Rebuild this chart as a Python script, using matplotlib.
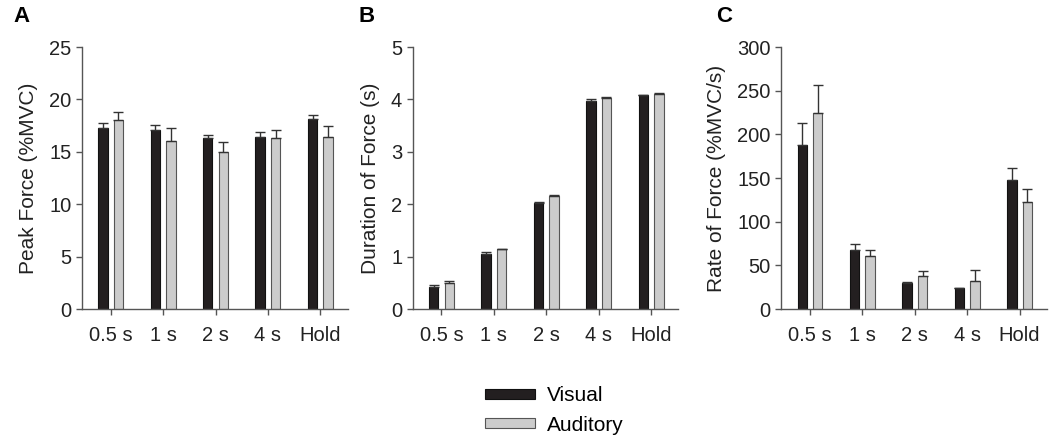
import numpy as np
import matplotlib.pyplot as plt

plt.rcParams['font.family'] = ['Liberation Sans', 'DejaVu Sans']

conditions = ['0.5 s', '1 s', '2 s', '4 s', 'Hold']

# Peak force (%MVC)
peak_visual = [17.3, 17.1, 16.3, 16.4, 18.1]
peak_visual_err = [0.5, 0.5, 0.3, 0.5, 0.45]
peak_auditory = [18.0, 16.0, 15.0, 16.3, 16.4]
peak_auditory_err = [0.85, 1.3, 0.95, 0.8, 1.05]

# Duration of force (s)
dur_visual = [0.42, 1.05, 2.03, 3.97, 4.08]
dur_visual_err = [0.03, 0.03, 0.01, 0.03, 0.01]
dur_auditory = [0.49, 1.14, 2.16, 4.02, 4.11]
dur_auditory_err = [0.05, 0.01, 0.01, 0.03, 0.01]

# Rate of force (%MVC/s)
rate_visual = [188, 68, 30, 24, 148]
rate_visual_err = [25, 6, 0.5, 0.5, 14]
rate_auditory = [225, 61, 38, 32, 123]
rate_auditory_err = [31, 7, 5, 13, 15]

panels = [
    ('A', 'Peak Force (%MVC)', peak_visual, peak_visual_err, peak_auditory, peak_auditory_err, 25, 5),
    ('B', 'Duration of Force (s)', dur_visual, dur_visual_err, dur_auditory, dur_auditory_err, 5, 1),
    ('C', 'Rate of Force (%MVC/s)', rate_visual, rate_visual_err, rate_auditory, rate_auditory_err, 300, 50),
]

fig = plt.figure(figsize=(10.5, 4.44), dpi=100)
lefts = [0.078, 0.393, 0.744]
label_x = [0.013, 0.341, 0.682]
spine_col = '#555555'
black = '#231f20'
gray = '#cccccc'
w = 0.18
off = 0.148
idx = np.arange(len(conditions))

for k, (tag, ylab, v, ve, a, ae, ymax, step) in enumerate(panels):
    ax = fig.add_axes([lefts[k], 0.304, 0.253, 0.590])
    ax.bar(idx - off, v, width=w, color=black, edgecolor='#111111', linewidth=0.8,
           yerr=[np.zeros(len(v)), ve], capsize=3.5,
           error_kw=dict(ecolor='#333333', elinewidth=1, capthick=1), label='Visual')
    ax.bar(idx + off, a, width=w, color=gray, edgecolor='#555555', linewidth=0.8,
           yerr=[np.zeros(len(a)), ae], capsize=3.5,
           error_kw=dict(ecolor='#333333', elinewidth=1, capthick=1), label='Auditory')
    ax.set_xlim(-0.55, 4.52)
    ax.set_ylim(0, ymax)
    ax.set_yticks(np.arange(0, ymax + step / 2, step))
    ax.set_xticks(idx)
    ax.set_xticklabels(conditions)
    ax.set_ylabel(ylab, fontsize=15, color='#222222', labelpad=8)
    for s in ['top', 'right']:
        ax.spines[s].set_visible(False)
    for s in ['left', 'bottom']:
        ax.spines[s].set_color(spine_col)
        ax.spines[s].set_linewidth(1)
    ax.tick_params(axis='both', colors=spine_col, labelcolor='#222222', labelsize=14.5,
                   length=4, width=1)
    ax.tick_params(axis='x', pad=8)
    fig.text(label_x[k], 0.963, tag, fontsize=16, fontweight='bold', va='center', ha='left')
    if k == 0:
        handles, labels = ax.get_legend_handles_labels()

fig.legend(handles, labels, loc='center', bbox_to_anchor=(0.528, 0.0755), frameon=False,
           fontsize=15, handlelength=2.4, handleheight=0.33, labelspacing=0.5,
           handletextpad=0.55)

fig.savefig('out.png', dpi=100)
